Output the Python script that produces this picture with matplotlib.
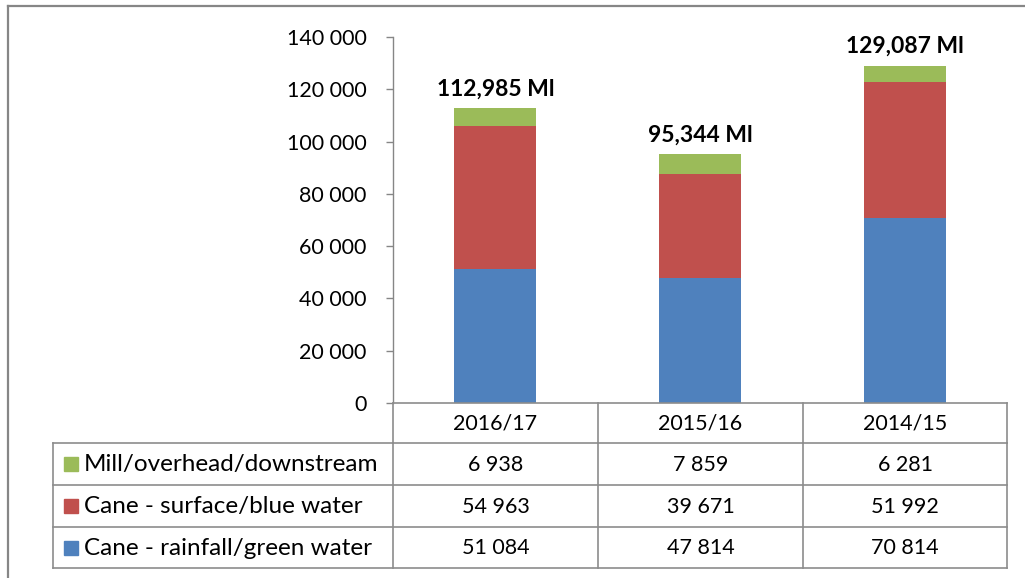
import matplotlib
matplotlib.use("Agg")
import matplotlib.pyplot as plt
from matplotlib.lines import Line2D
from matplotlib.patches import Rectangle
import numpy as np

plt.rcParams['font.family'] = ['Lato', 'DejaVu Sans']

categories = ["2016/17", "2015/16", "2014/15"]
series_names = ["Mill/overhead/downstream", "Cane - surface/blue water", "Cane - rainfall/green water"]
mill = [6938, 7859, 6281]
surface = [54963, 39671, 51992]
rainfall = [51084, 47814, 70814]
yticks = [0, 20000, 40000, 60000, 80000, 100000, 120000, 140000]

c_blue = "#4F81BD"
c_red = "#C0504D"
c_green = "#9BBB59"
gray = "#868686"

NUM_FS = 15.5
LBL_FS = 17.5

W, H = 1025, 578
fig = plt.figure(figsize=(W / 100, H / 100), dpi=100)

def fx(px):
    return px / W

def fy(py):
    return 1 - py / H

# chart frame (top and left)
fig.add_artist(Line2D([fx(8), fx(1025)], [fy(6), fy(6)], color=gray, lw=1.6))
fig.add_artist(Line2D([fx(8), fx(8)], [fy(6), fy(578)], color=gray, lw=1.6))

ax_l, ax_r, ax_t, ax_b = 393, 1007, 37, 403
ax = fig.add_axes([fx(ax_l), fy(ax_b), fx(ax_r - ax_l), (ax_b - ax_t) / H])
x = np.arange(len(categories))
bw = 0.4
ax.bar(x, rainfall, bw, color=c_blue, zorder=2)
ax.bar(x, surface, bw, bottom=rainfall, color=c_red, zorder=2)
bottom2 = np.array(rainfall) + np.array(surface)
ax.bar(x, mill, bw, bottom=bottom2, color=c_green, zorder=2)
totals = bottom2 + np.array(mill)
for xi, t in zip(x, totals):
    ax.annotate(f"{t:,} Ml", (xi, t), xytext=(0, 6), textcoords="offset points",
                ha="center", va="bottom", fontsize=16.5, fontweight="bold", color="black")

ax.set_xlim(-0.5, len(categories) - 0.5)
ax.set_ylim(0, 140000)
ax.set_yticks(yticks)
ax.set_yticklabels([f"{v:,}".replace(",", " ") for v in yticks], fontsize=NUM_FS)
ax.set_xticks([])
for s in ["top", "right", "bottom"]:
    ax.spines[s].set_visible(False)
ax.spines["left"].set_color(gray)
ax.spines["left"].set_linewidth(1.0)
ax.tick_params(axis="y", direction="out", length=5, color=gray, width=1.0, pad=14)
ax.patch.set_alpha(0)

# data table
tab_left = 53
col_edges = [393, 598, 803, 1007]
row_edges = [403, 443, 485, 527, 568]
lc = "#8C8C8C"
lw = 1.2
fig.add_artist(Line2D([fx(393), fx(1007)], [fy(403), fy(403)], color=lc, lw=lw))
for cx in col_edges:
    fig.add_artist(Line2D([fx(cx), fx(cx)], [fy(403), fy(443)], color=lc, lw=lw))
for ry in row_edges[1:]:
    fig.add_artist(Line2D([fx(tab_left), fx(1007)], [fy(ry), fy(ry)], color=lc, lw=lw))
for cx in [tab_left] + col_edges:
    fig.add_artist(Line2D([fx(cx), fx(cx)], [fy(443), fy(568)], color=lc, lw=lw))

for i, c in enumerate(categories):
    cx = (col_edges[i] + col_edges[i + 1]) / 2
    fig.text(fx(cx), fy((row_edges[0] + row_edges[1]) / 2 + 1), c, ha="center", va="center", fontsize=NUM_FS)

rows = [(series_names[0], mill, c_green), (series_names[1], surface, c_red), (series_names[2], rainfall, c_blue)]
for r, (name, vals, col) in enumerate(rows):
    y0, y1 = row_edges[r + 1], row_edges[r + 2]
    yc = (y0 + y1) / 2
    fig.add_artist(Rectangle((fx(64), fy(yc + 7)), fx(14), 14 / H, color=col, transform=fig.transFigure))
    fig.text(fx(84), fy(yc + 1), name, ha="left", va="center", fontsize=LBL_FS)
    for i, v in enumerate(vals):
        cx = (col_edges[i] + col_edges[i + 1]) / 2
        fig.text(fx(cx), fy(yc + 1), f"{v:,}".replace(",", " "), ha="center", va="center", fontsize=NUM_FS)

fig.savefig("out.png", dpi=100)
